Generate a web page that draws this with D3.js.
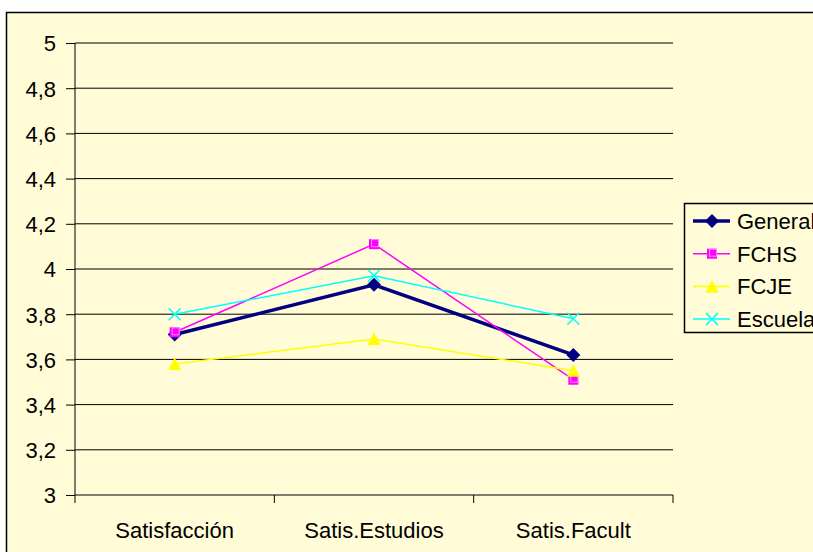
<!DOCTYPE html>
<html><head><meta charset="utf-8">
<script src="https://cdn.jsdelivr.net/npm/d3@7"></script>
<style>body{margin:0;background:#fff;}svg{display:block;font-family:"Liberation Sans",Arial,sans-serif;}</style>
</head><body>
<svg id="c" width="813" height="552"></svg>
<script>
const categories = ["Satisfacción", "Satis.Estudios", "Satis.Facult"];
const seriesNames = ["General", "FCHS", "FCJE", "Escuela"];
const general = [3.71, 3.93, 3.62];
const fchs = [3.72, 4.11, 3.51];
const fcje = [3.58, 3.69, 3.55];
const escuela = [3.80, 3.97, 3.78];
const yTicks = [3, 3.2, 3.4, 3.6, 3.8, 4, 4.2, 4.4, 4.6, 4.8, 5];

const series = [
  {name: seriesNames[0], values: general, color: "#000080", width: 3.5, marker: "diamond"},
  {name: seriesNames[1], values: fchs, color: "#FF00FF", width: 1.5, marker: "square"},
  {name: seriesNames[2], values: fcje, color: "#FFFF00", width: 1.5, marker: "triangle"},
  {name: seriesNames[3], values: escuela, color: "#00FFFF", width: 1.5, marker: "x"}
];

const FS = 22;
const svg = d3.select("#c");
svg.append("rect").attr("x", 6.5).attr("y", 12.5).attr("width", 840).attr("height", 600)
  .attr("fill", "#FFFCD7").attr("stroke", "#000").attr("stroke-width", 1.5);

const L = 75, R = 673, T = 43, B = 495;
const x = d3.scaleBand().domain(categories).range([L, R]);
const y = d3.scaleLinear().domain([3, 5]).range([B, T]);

// gridlines
svg.append("g").selectAll("line").data(yTicks.slice(1)).join("line")
  .attr("x1", L).attr("x2", R).attr("y1", d => y(d)).attr("y2", d => y(d))
  .attr("stroke", "#000").attr("stroke-width", 1);

// y axis
const yAxis = d3.axisLeft(y).tickValues(yTicks).tickSize(9).tickPadding(10)
  .tickFormat(d => String(d).replace(".", ","));
const gy = svg.append("g").attr("transform", `translate(${L},0)`).call(yAxis);
gy.attr("font-size", FS).attr("font-family", "Liberation Sans, Arial, sans-serif");
gy.select(".domain").remove();
gy.append("line").attr("x1", 0).attr("x2", 0).attr("y1", T).attr("y2", B).attr("stroke", "#000");
gy.selectAll("text").attr("fill", "#000").attr("dy", "0.36em");
gy.selectAll(".tick line").attr("stroke", "#000");

// x axis
const gx = svg.append("g").attr("transform", `translate(0,${B})`);
gx.append("line").attr("x1", L).attr("x2", R).attr("y1", 0).attr("y2", 0).attr("stroke", "#000");
const bounds = categories.map(c => x(c)).concat([R]);
gx.selectAll("line.tk").data(bounds).join("line").attr("class", "tk")
  .attr("x1", d => d).attr("x2", d => d).attr("y1", 0).attr("y2", 8).attr("stroke", "#000");
gx.selectAll("text").data(categories).join("text")
  .attr("x", d => x(d) + x.bandwidth() / 2).attr("y", 43)
  .attr("text-anchor", "middle").attr("font-size", FS).attr("fill", "#000").text(d => d);

function drawMarker(g, type, cx, cy, color, s) {
  if (type === "diamond") {
    g.append("path").attr("d", `M${cx},${cy - s}L${cx + s},${cy}L${cx},${cy + s}L${cx - s},${cy}Z`).attr("fill", color);
  } else if (type === "square") {
    g.append("rect").attr("x", cx - 5).attr("y", cy - 5).attr("width", 10).attr("height", 10)
      .attr("fill", color);
    g.append("rect").attr("x", cx - 2.5).attr("y", cy - 4.5).attr("width", 7).attr("height", 7)
      .attr("fill", "none").attr("stroke", "#FF88FF").attr("stroke-width", 1);
  } else if (type === "triangle") {
    g.append("path").attr("d", `M${cx},${cy - 6.5}L${cx + 6.5},${cy + 6}L${cx - 6.5},${cy + 6}Z`).attr("fill", color);
  } else if (type === "x") {
    g.append("path").attr("d", `M${cx - 6},${cy - 6}L${cx + 6},${cy + 6}M${cx - 6},${cy + 6}L${cx + 6},${cy - 6}`)
      .attr("stroke", color).attr("stroke-width", 1.5).attr("fill", "none");
  }
}

const cxOf = c => x(c) + x.bandwidth() / 2;
const line = d3.line().x((d, i) => cxOf(categories[i])).y(d => y(d));
series.forEach(s => {
  const g = svg.append("g");
  g.append("path").attr("d", line(s.values)).attr("fill", "none").attr("stroke", s.color).attr("stroke-width", s.width);
  s.values.forEach((v, i) => drawMarker(g, s.marker, cxOf(categories[i]), y(v), s.color, 7));
});

// legend
const lg = svg.append("g");
lg.append("rect").attr("x", 684.5).attr("y", 203.5).attr("width", 200).attr("height", 129)
  .attr("fill", "#FFFCD7").attr("stroke", "#000").attr("stroke-width", 1.5);
series.forEach((s, i) => {
  const yy = 221 + i * 32.7;
  lg.append("line").attr("x1", 693).attr("x2", 730).attr("y1", yy).attr("y2", yy)
    .attr("stroke", s.color).attr("stroke-width", s.width);
  drawMarker(lg, s.marker, 712, yy, s.color, 7);
  lg.append("text").attr("x", 737).attr("y", yy + 8).attr("font-size", FS).attr("fill", "#000").text(s.name);
});
</script>
</body></html>
